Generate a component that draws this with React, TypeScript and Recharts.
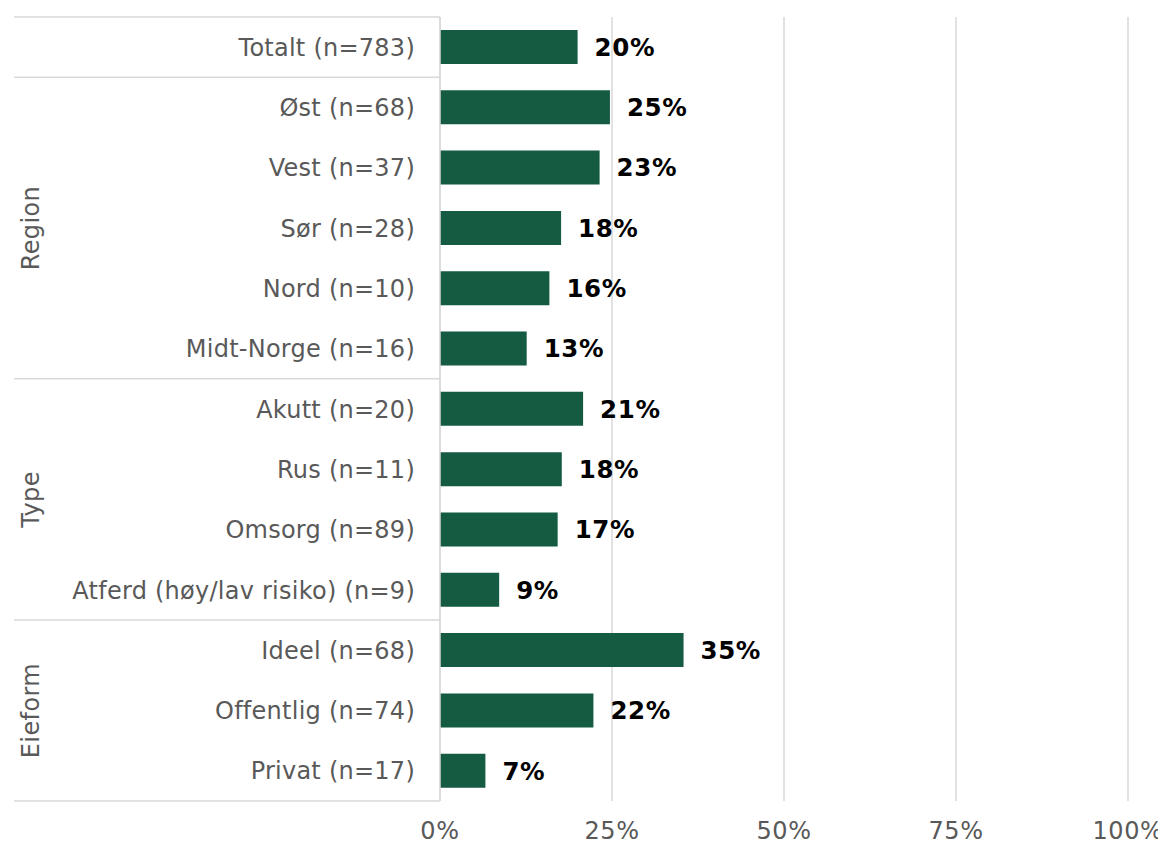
import React from "react";
import { BarChart, Bar, XAxis, YAxis, CartesianGrid, LabelList } from "recharts";

const categories = [
  "Totalt (n=783)",
  "Øst (n=68)",
  "Vest (n=37)",
  "Sør (n=28)",
  "Nord (n=10)",
  "Midt-Norge (n=16)",
  "Akutt (n=20)",
  "Rus (n=11)",
  "Omsorg (n=89)",
  "Atferd (høy/lav risiko) (n=9)",
  "Ideel (n=68)",
  "Offentlig (n=74)",
  "Privat (n=17)",
];
const values = [20.0, 24.7, 23.2, 17.6, 15.9, 12.6, 20.8, 17.7, 17.1, 8.6, 35.4, 22.3, 6.6];
const valueLabels = ["20%", "25%", "23%", "18%", "16%", "13%", "21%", "18%", "17%", "9%", "35%", "22%", "7%"];
const groups = [
  { name: "", start: 0, end: 0 },
  { name: "Region", start: 1, end: 5 },
  { name: "Type", start: 6, end: 9 },
  { name: "Eieform", start: 10, end: 12 },
];
const xTicks = [0, 25, 50, 75, 100];

const data = categories.map((c, i) => ({ label: c, value: values[i], text: valueLabels[i] }));

const FONT = "'DejaVu Sans', Verdana, sans-serif";
const GRAY = "#595959";
const LINE = "#d9d9d9";
const BAR = "#145b42";

const W = 1158;
const H = 836;
const TOP = 9;
const AXIS_W = 432;
const X_AXIS_H = 43;
const PLOT_H = H - TOP - X_AXIS_H;
const ROW_H = PLOT_H / categories.length;
const TABLE_LEFT = 6;
const GROUP_X = 23;

const YTick = (props: any) => {
  const { x, y, payload, index } = props;
  const items: React.ReactNode[] = [];
  const g = groups.find((gr) => gr.start === index);
  if (g) {
    const top = y - ROW_H / 2;
    items.push(<line key="l" x1={TABLE_LEFT} x2={x} y1={top} y2={top} stroke={LINE} strokeWidth={1.5} />);
    if (g.name) {
      const cy = y + ((g.end - g.start) * ROW_H) / 2;
      items.push(
        <text
          key="g"
          x={GROUP_X}
          y={cy}
          transform={`rotate(-90 ${GROUP_X} ${cy})`}
          textAnchor="middle"
          dy="0.35em"
          fill={GRAY}
          fontSize={24}
          letterSpacing={0.4}
          fontFamily={FONT}
        >
          {g.name}
        </text>
      );
    }
  }
  if (index === categories.length - 1) {
    const bot = y + ROW_H / 2;
    items.push(<line key="b" x1={TABLE_LEFT} x2={x} y1={bot} y2={bot} stroke={LINE} strokeWidth={1.5} />);
  }
  items.push(
    <text
      key="t"
      x={x - 25}
      y={y}
      dy="0.36em"
      textAnchor="end"
      fill={GRAY}
      fontSize={24}
      letterSpacing={0.25}
      fontFamily={FONT}
    >
      {payload.value}
    </text>
  );
  return <g>{items}</g>;
};

const XTick = (props: any) => {
  const { x, y, payload } = props;
  return (
    <text
      x={x}
      y={y}
      dy={38}
      textAnchor="middle"
      fill={GRAY}
      fontSize={24}
      letterSpacing={0.6}
      fontFamily={FONT}
    >
      {payload.value}%
    </text>
  );
};

const ValueLabel = (props: any) => {
  const { x, y, width, height, index } = props;
  return (
    <text
      x={x + width + 17}
      y={y + height / 2}
      dy="0.36em"
      textAnchor="start"
      fill="#000"
      fontWeight="bold"
      fontSize={24.5}
      letterSpacing={0.6}
      fontFamily={FONT}
    >
      {valueLabels[index]}
    </text>
  );
};

export default function App() {
  return (
    <div style={{ width: W, height: H }}>
      <BarChart
        width={W}
        height={H}
        data={data}
        layout="vertical"
        margin={{ top: TOP, right: 38, bottom: 0, left: 0 }}
        barSize={34}
      >
        <CartesianGrid horizontal={false} vertical={true} stroke={LINE} strokeWidth={1.5} />
        <XAxis
          type="number"
          domain={[0, 100]}
          ticks={xTicks}
          tickLine={false}
          axisLine={false}
          tickSize={0}
          tickMargin={0}
          height={X_AXIS_H}
          tick={<XTick />}
          interval={0}
        />
        <YAxis
          type="category"
          dataKey="label"
          width={AXIS_W}
          tickLine={false}
          tickSize={0}
          tickMargin={0}
          axisLine={{ stroke: LINE, strokeWidth: 1.5 }}
          tick={<YTick />}
          interval={0}
        />
        <Bar dataKey="value" fill={BAR} isAnimationActive={false}>
          <LabelList dataKey="text" content={<ValueLabel />} />
        </Bar>
      </BarChart>
    </div>
  );
}
